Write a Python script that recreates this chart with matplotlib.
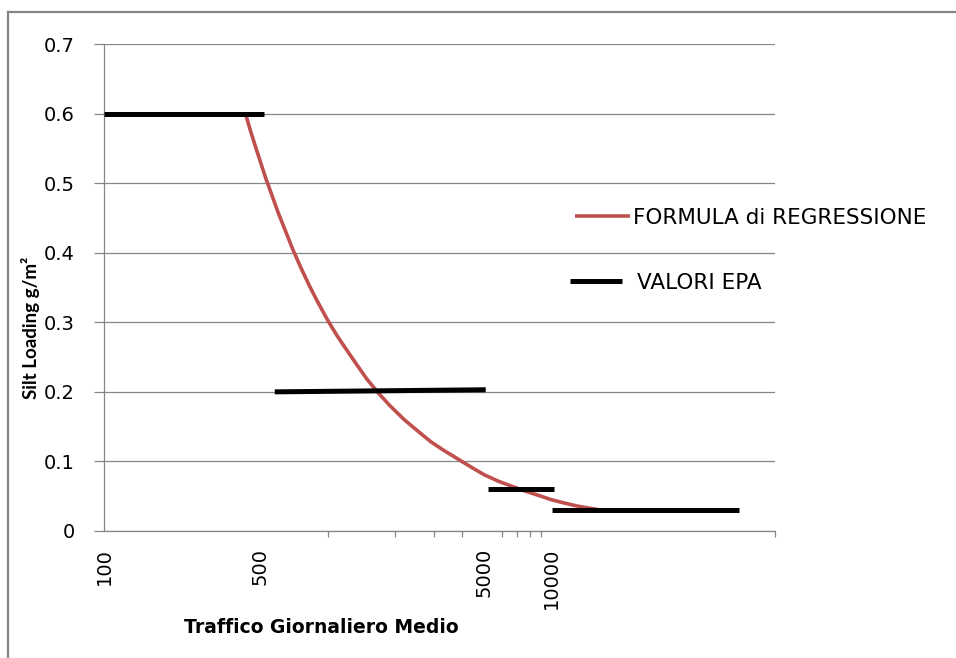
import matplotlib
matplotlib.use("Agg")
import matplotlib.pyplot as plt
from matplotlib.ticker import FixedLocator, NullFormatter, FixedFormatter
from matplotlib.lines import Line2D

# ---------------- data ----------------
regression_x = [429, 450, 475, 500, 530, 560, 600, 650, 700, 760, 830, 900,
                1000, 1100, 1200, 1350, 1500, 1700, 1900, 2200, 2500, 2900,
                3300, 3800, 4400, 5000, 5800, 6700, 7700, 8800, 10000, 11500,
                13000, 15000, 17500]
regression_y = [0.600, 0.577, 0.553, 0.531, 0.506, 0.485, 0.458, 0.430, 0.404,
                0.378, 0.352, 0.330, 0.303, 0.281, 0.263, 0.239, 0.218, 0.197,
                0.180, 0.160, 0.145, 0.128, 0.116, 0.104, 0.0915, 0.0810,
                0.0715, 0.0640, 0.0570, 0.0510, 0.0450, 0.0400, 0.0360,
                0.0325, 0.0290]

epa_x_start = [100, 580, 5200, 10060]
epa_x_end = [520, 5090, 10260, 69000]
epa_y_start = [0.600, 0.200, 0.060, 0.030]
epa_y_end = [0.600, 0.203, 0.060, 0.030]

x_tick_labels = ["100", "500", "5000", "10000"]
x_tick_values = [100, 500, 5000, 10000]
x_tick_marks = [100, 1000, 2000, 3000, 4000, 5000, 6000, 7000, 8000, 9000,
                10000, 100000]
y_ticks = [0, 0.1, 0.2, 0.3, 0.4, 0.5, 0.6, 0.7]

label_reg = "FORMULA di REGRESSIONE"
label_epa = "VALORI EPA"
xlabel = "Traffico Giornaliero Medio"
ylabel = "Silt Loading g/m²"

# ---------------- style ----------------
RED = "#C0504D"
GREY = "#868686"
plt.rcParams["font.family"] = ["DejaVu Sans"]

W, H = 956, 658
fig = plt.figure(figsize=(W / 100, H / 100), dpi=100)
ax = fig.add_axes([104 / W, 1 - 531 / H, (775 - 104) / W, (531 - 44) / H])

ax.set_xscale("log")
ax.set_xlim(100, 100000)
ax.set_ylim(0, 0.7)

# gridlines
ax.set_yticks(y_ticks)
ax.set_yticklabels(["0" if v == 0 else f"{v:.1f}" for v in y_ticks])
ax.yaxis.grid(True, color=GREY, linewidth=0.9)
ax.xaxis.grid(False)
ax.set_axisbelow(True)

# x ticks: labels at specific values, tick marks at listed positions
ax.xaxis.set_major_locator(FixedLocator(x_tick_values))
ax.xaxis.set_major_formatter(FixedFormatter(x_tick_labels))
ax.xaxis.set_minor_locator(FixedLocator(x_tick_marks))
ax.xaxis.set_minor_formatter(NullFormatter())
ax.tick_params(axis="x", which="major", length=0, pad=12, labelsize=14,
               labelrotation=90)
ax.tick_params(axis="x", which="minor", length=4.5, width=0.9, color=GREY,
               direction="out")
ax.tick_params(axis="y", which="major", length=7, width=0.9, color=GREY,
               pad=14, labelsize=14)
for lbl in ax.get_xticklabels():
    lbl.set_verticalalignment("top")

for s in ("top", "right"):
    ax.spines[s].set_visible(False)
for s in ("left", "bottom"):
    ax.spines[s].set_color(GREY)
    ax.spines[s].set_linewidth(0.9)

# series
reg_line, = ax.plot(regression_x, regression_y, color=RED, linewidth=2.6,
                    solid_capstyle="butt", solid_joinstyle="round",
                    zorder=3, clip_on=False)
epa_line = None
for x0, x1, y0, y1 in zip(epa_x_start, epa_x_end, epa_y_start, epa_y_end):
    epa_line, = ax.plot([x0, x1], [y0, y1], color="black", linewidth=3.6,
                        solid_capstyle="butt", zorder=4, clip_on=False)

# legends (two, to control each entry's position)
leg1 = ax.legend([reg_line], [label_reg], loc="center left",
                 bbox_to_anchor=(575 / W, 1 - 218 / H),
                 bbox_transform=fig.transFigure, frameon=False, fontsize=15.5,
                 borderpad=0, borderaxespad=0, handlelength=2.56,
                 handletextpad=0.14)
ax.add_artist(leg1)
ax.legend([epa_line], [label_epa], loc="center left",
          bbox_to_anchor=(570 / W, 1 - 283 / H),
          bbox_transform=fig.transFigure, frameon=False, fontsize=15.5,
          borderpad=0, borderaxespad=0, handlelength=2.42,
          handletextpad=0.7)

# axis titles
fig.text(321 / W, 1 - 633 / H, xlabel, ha="center", va="baseline",
         fontsize=13.5, fontweight="bold")
fig.text(31 / W, 1 - 328 / H, ylabel, ha="center", va="center",
         rotation=90, fontweight="bold", family=["Lato", "DejaVu Sans"],
         fontsize=13.5)

# chart-area border (top and left visible)
fig.add_artist(Line2D([7.5 / W, 1.0], [1 - 11.5 / H, 1 - 11.5 / H],
                      transform=fig.transFigure, color=GREY, linewidth=1.6))
fig.add_artist(Line2D([7.5 / W, 7.5 / W], [0, 1 - 11.5 / H],
                      transform=fig.transFigure, color=GREY, linewidth=1.6))

fig.savefig("out.png", dpi=100)
